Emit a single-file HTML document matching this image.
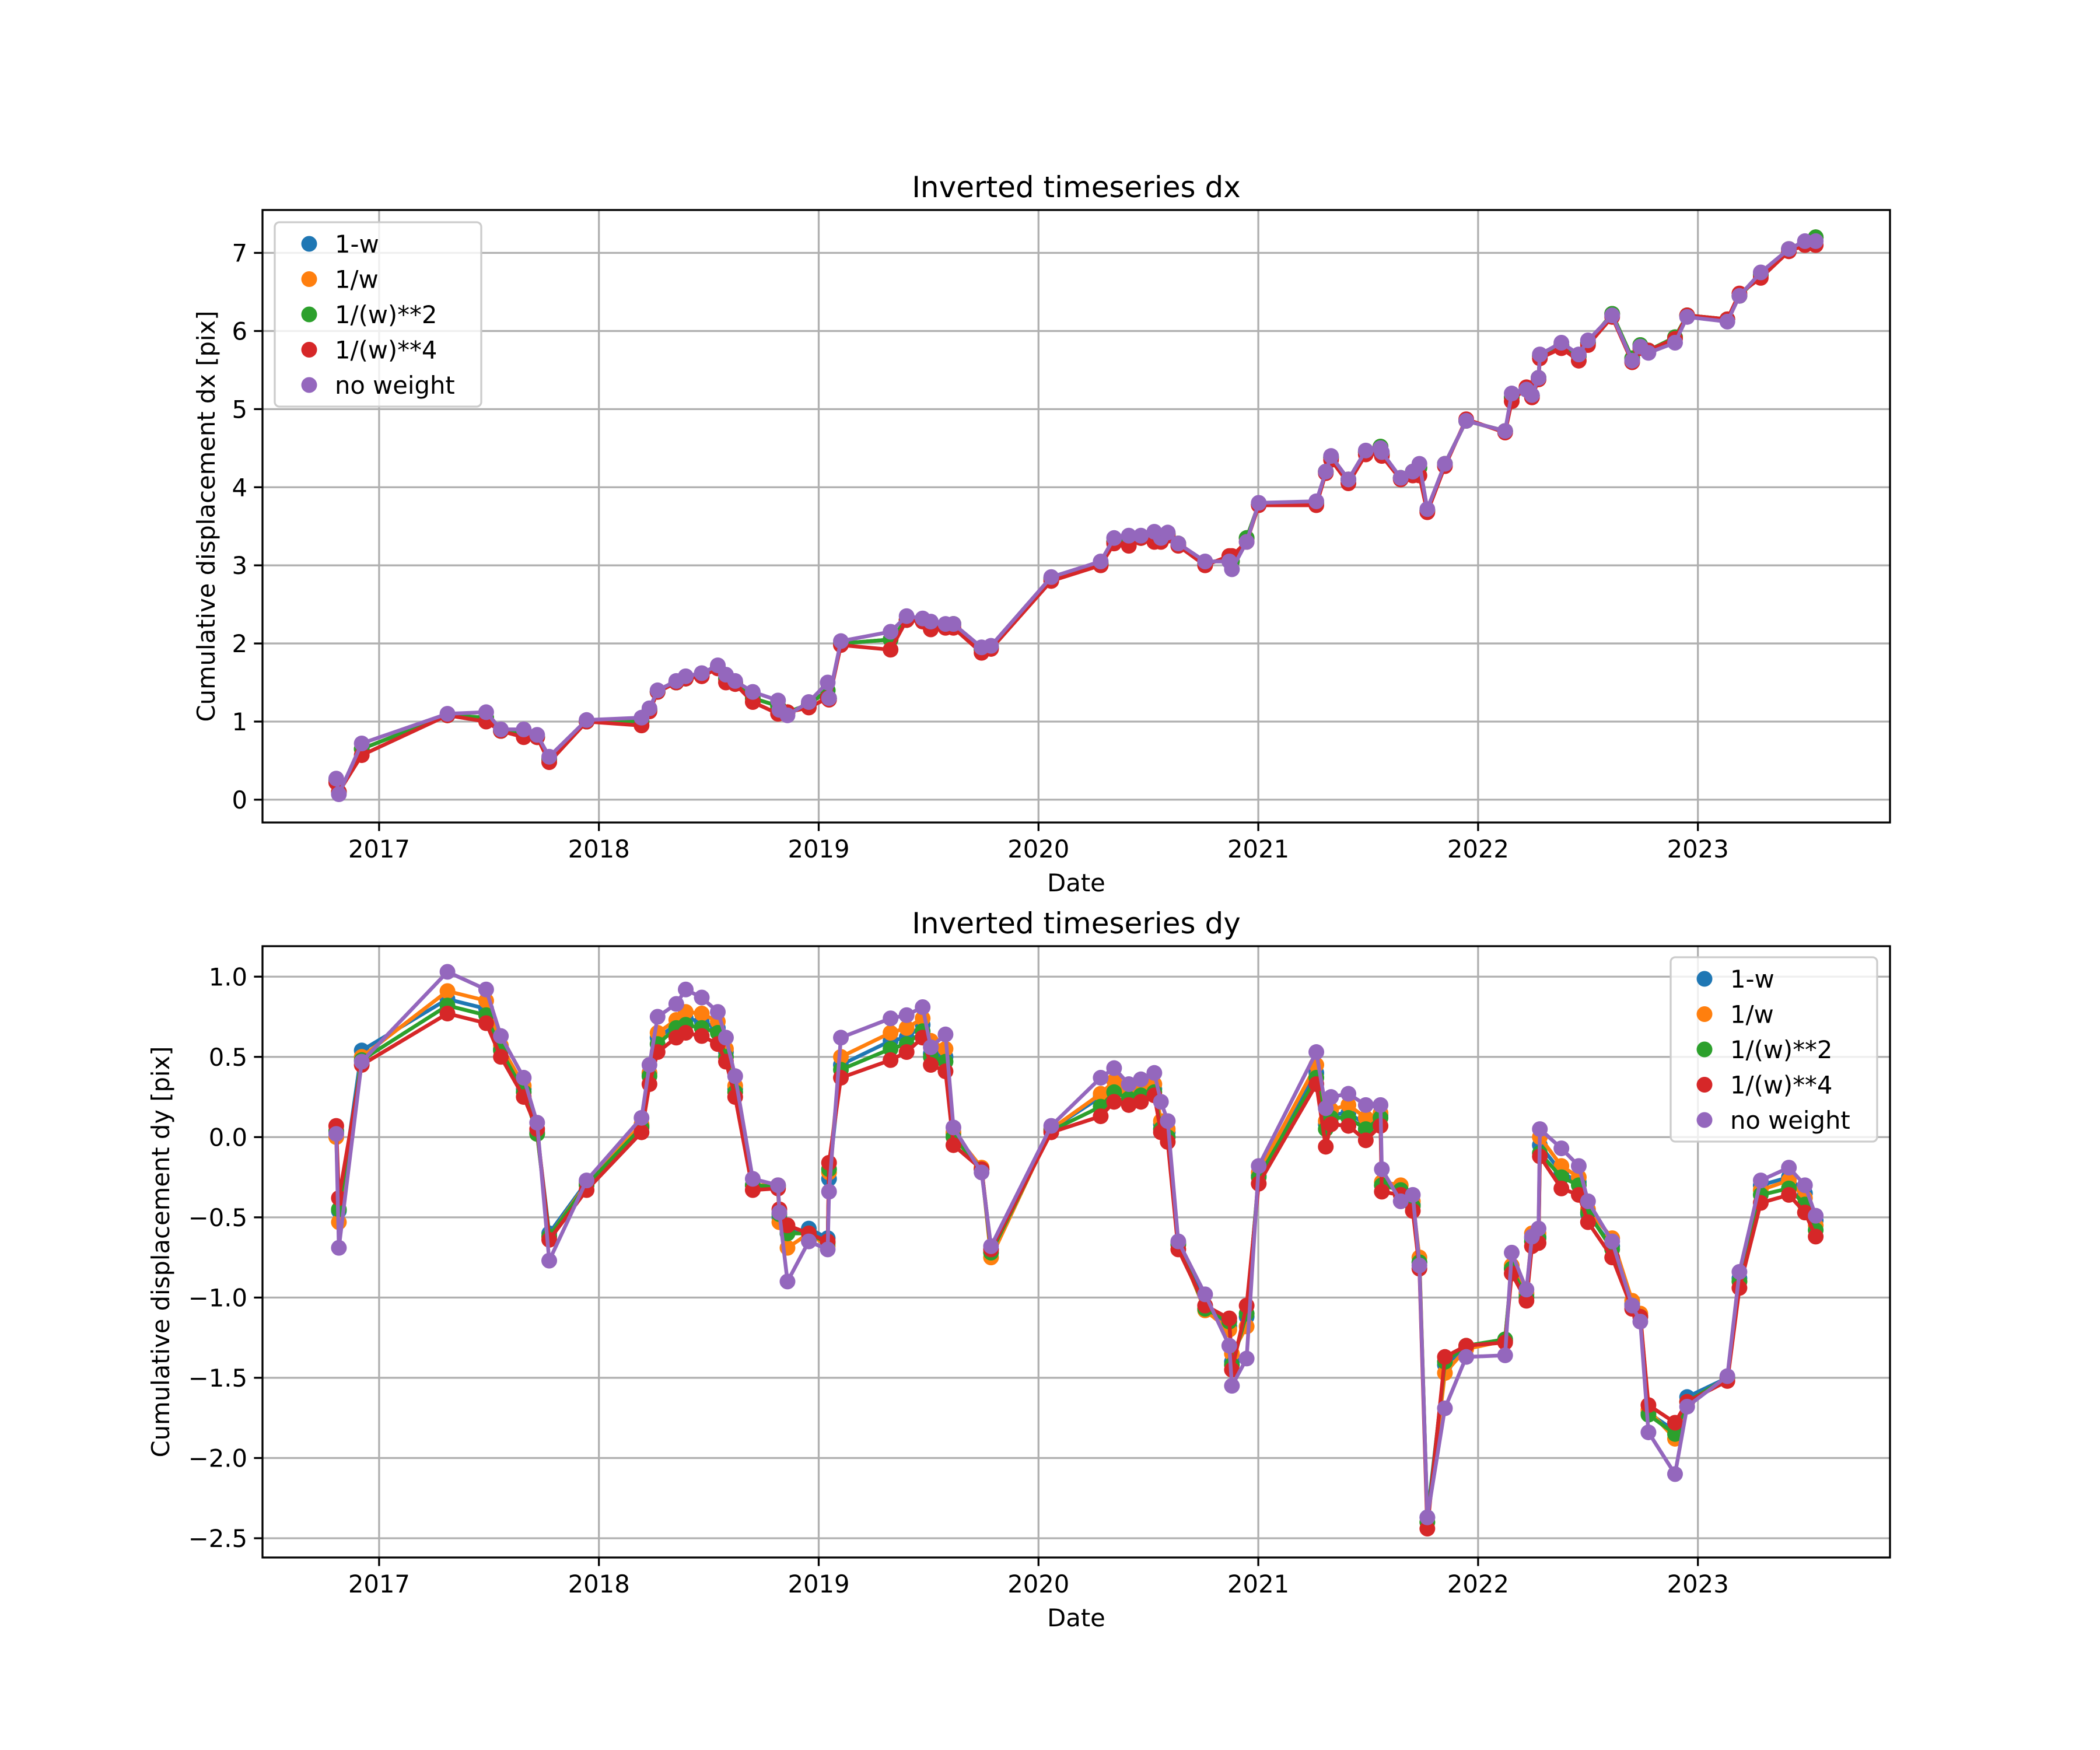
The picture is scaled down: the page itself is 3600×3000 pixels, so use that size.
<!DOCTYPE html>
<html><head><meta charset="utf-8"><style>
html,body{margin:0;padding:0;background:#fff;}
svg{display:block;font-family:"DejaVu Sans","Liberation Sans",sans-serif;}
</style></head><body>
<svg id="fig" width="3600" height="3000" viewBox="0 0 3600 3000" xmlns="http://www.w3.org/2000/svg"></svg>
<script>
const dates=[2016.805,2016.817,2016.921,2017.311,2017.487,2017.554,2017.658,2017.719,2017.774,2017.944,2018.194,2018.230,2018.267,2018.352,2018.395,2018.468,2018.541,2018.578,2018.620,2018.700,2018.815,2018.821,2018.858,2018.955,2019.041,2019.047,2019.101,2019.327,2019.400,2019.473,2019.510,2019.577,2019.613,2019.741,2019.784,2020.058,2020.283,2020.344,2020.411,2020.466,2020.527,2020.557,2020.588,2020.636,2020.758,2020.868,2020.880,2020.947,2021.002,2021.264,2021.307,2021.331,2021.410,2021.489,2021.556,2021.562,2021.648,2021.703,2021.733,2021.769,2021.849,2021.946,2022.123,2022.153,2022.220,2022.245,2022.275,2022.281,2022.379,2022.458,2022.500,2022.610,2022.701,2022.738,2022.775,2022.896,2022.951,2023.134,2023.189,2023.286,2023.414,2023.487,2023.536];
const dxNoWeight=[.27,.07,.72,1.1,1.12,.9,.9,.83,.55,1.02,1.05,1.17,1.4,1.52,1.58,1.62,1.72,1.6,1.52,1.38,1.27,1.15,1.08,1.25,1.5,1.3,2.03,2.15,2.35,2.32,2.28,2.25,2.25,1.95,1.97,2.85,3.05,3.35,3.38,3.38,3.43,3.35,3.42,3.28,3.05,3.05,2.95,3.3,3.8,3.82,4.2,4.4,4.1,4.47,4.5,4.45,4.12,4.2,4.3,3.72,4.3,4.85,4.72,5.2,5.25,5.18,5.4,5.7,5.85,5.7,5.88,6.2,5.62,5.8,5.72,5.85,6.18,6.12,6.45,6.75,7.05,7.15,7.15];
const dxW4=[.22,.1,.57,1.08,1.0,.88,.8,.8,.48,1.0,.95,1.13,1.38,1.5,1.55,1.58,1.68,1.5,1.48,1.25,1.1,1.12,1.12,1.18,1.3,1.28,1.98,1.92,2.3,2.28,2.18,2.2,2.2,1.88,1.93,2.8,3.0,3.28,3.25,3.35,3.3,3.3,3.38,3.25,3.0,3.12,3.12,3.3,3.77,3.77,4.18,4.35,4.05,4.42,4.45,4.4,4.1,4.15,4.15,3.68,4.27,4.87,4.7,5.1,5.28,5.15,5.38,5.65,5.78,5.62,5.82,6.18,5.6,5.78,5.75,5.9,6.2,6.15,6.48,6.68,7.02,7.1,7.1];
const dxMid=[.25,.1,.65,1.08,1.05,.88,.85,.8,.52,1.0,1.0,1.15,1.38,1.5,1.55,1.6,1.7,1.55,1.5,1.3,1.2,1.13,1.12,1.22,1.4,1.3,2.0,2.05,2.3,2.3,2.25,2.22,2.25,1.92,1.95,2.83,3.02,3.3,3.3,3.35,3.38,3.33,3.4,3.28,3.03,3.08,3.05,3.35,3.78,3.8,4.2,4.38,4.1,4.45,4.52,4.42,4.12,4.2,4.25,3.7,4.3,4.85,4.72,5.15,5.25,5.17,5.4,5.68,5.82,5.68,5.85,6.22,5.65,5.82,5.75,5.92,6.2,6.15,6.45,6.72,7.05,7.12,7.2];
const dxW1=dxMid.slice(), dxInv=dxMid.slice(), dxW2=dxMid.slice();
const dyNoWeight=[.02,-.69,.47,1.03,.92,.63,.37,.09,-.77,-.27,.12,.45,.75,.83,.92,.87,.78,.62,.38,-.26,-.3,-.47,-.9,-.65,-.7,-.34,.62,.74,.76,.81,.56,.64,.06,-.22,-.68,.07,.37,.43,.33,.36,.4,.22,.1,-.65,-.98,-1.3,-1.55,-1.38,-.18,.53,.18,.25,.27,.2,.2,-.2,-.4,-.36,-.8,-2.37,-1.69,-1.37,-1.36,-.72,-.95,-.62,-.57,.05,-.07,-.18,-.4,-.65,-1.05,-1.15,-1.84,-2.1,-1.68,-1.49,-.84,-.27,-.19,-.3,-.49];
const dyW4=[.07,-.38,.45,.77,.71,.5,.25,.05,-.64,-.33,.03,.33,.53,.62,.65,.63,.58,.47,.25,-.33,-.32,-.45,-.55,-.6,-.65,-.16,.37,.48,.53,.62,.45,.41,-.05,-.2,-.7,.03,.13,.22,.2,.22,.26,.03,-.03,-.7,-1.05,-1.13,-1.45,-1.05,-.29,.33,-.06,.08,.07,-.02,.07,-.34,-.36,-.46,-.82,-2.44,-1.37,-1.3,-1.28,-.85,-1.02,-.68,-.66,-.12,-.32,-.36,-.53,-.75,-1.07,-1.12,-1.67,-1.78,-1.65,-1.52,-.94,-.41,-.36,-.47,-.62];
const dyInv=[.0,-.53,.5,.91,.85,.57,.32,.02,-.62,-.29,.08,.4,.65,.73,.78,.77,.72,.55,.32,-.3,-.3,-.53,-.69,-.6,-.68,-.22,.5,.65,.68,.74,.6,.55,.03,-.19,-.75,.05,.27,.35,.28,.3,.33,.1,.05,-.67,-1.08,-1.2,-1.35,-1.18,-.22,.45,.1,.17,.2,.12,.15,-.28,-.3,-.4,-.75,-2.4,-1.47,-1.32,-1.27,-.8,-.97,-.6,-.6,.0,-.18,-.25,-.45,-.63,-1.02,-1.1,-1.7,-1.88,-1.65,-1.5,-.9,-.33,-.27,-.38,-.55];
const dyW1=[.03,-.46,.54,.86,.8,.55,.3,.03,-.6,-.28,.07,.4,.62,.7,.74,.72,.68,.53,.3,-.3,-.3,-.5,-.6,-.57,-.63,-.26,.45,.6,.62,.7,.52,.5,.02,-.2,-.7,.05,.25,.3,.26,.28,.3,.08,.03,-.66,-1.05,-1.18,-1.4,-1.12,-.24,.4,.08,.14,.15,.08,.14,-.3,-.33,-.42,-.78,-2.37,-1.42,-1.31,-1.27,-.82,-.98,-.63,-.62,-.05,-.22,-.28,-.48,-.68,-1.04,-1.12,-1.72,-1.83,-1.62,-1.5,-.88,-.3,-.25,-.35,-.52];
const dyW2=[.04,-.45,.48,.82,.76,.54,.28,.02,-.62,-.3,.06,.38,.58,.68,.7,.68,.65,.5,.28,-.3,-.31,-.48,-.6,-.6,-.66,-.2,.42,.55,.58,.66,.5,.47,.0,-.2,-.72,.04,.19,.28,.24,.26,.28,.05,.0,-.67,-1.07,-1.15,-1.42,-1.1,-.25,.37,.05,.12,.12,.05,.12,-.3,-.33,-.43,-.78,-2.4,-1.4,-1.3,-1.26,-.82,-1.0,-.65,-.63,-.1,-.25,-.3,-.47,-.7,-1.05,-1.12,-1.73,-1.85,-1.65,-1.5,-.9,-.36,-.32,-.42,-.58];
const seriesNames=["1-w","1/w","1/(w)**2","1/(w)**4","no weight"];
const seriesColors=["#1f77b4","#ff7f0e","#2ca02c","#d62728","#9467bd"];
const xTickYears=[2017,2018,2019,2020,2021,2022,2023];
const dxTicks=[0,1,2,3,4,5,6,7];
const dyTicks=[1.0,0.5,0.0,-0.5,-1.0,-1.5,-2.0,-2.5];
const dyTickLabels=["1.0","0.5","0.0","\u22120.5","\u22121.0","\u22121.5","\u22122.0","\u22122.5"];

const NS="http://www.w3.org/2000/svg";
const svg=document.getElementById('fig');
function mk(tag,attrs,parent,text){const e=document.createElementNS(NS,tag);for(const k in attrs)e.setAttribute(k,attrs[k]);if(text!==undefined)e.textContent=text;(parent||svg).appendChild(e);return e;}
const L=450,R=3240;
function xs(t){return L+(t-2016.4695)/(2023.874-2016.4695)*(R-L);}

function panel(cfg){
  const g=mk('g',{});
  
  
  const ys=v=>cfg.bot+(v-cfg.ymin)/(cfg.ymax-cfg.ymin)*(cfg.top-cfg.bot);
  xTickYears.forEach(yr=>{const x=xs(yr);
    const l=mk('line',{x1:x,x2:x,y1:cfg.top,y2:cfg.bot,stroke:'#b0b0b0','stroke-width':3.3},g);
    });
  cfg.ticks.forEach(v=>{const y=ys(v);
    const l=mk('line',{x1:L,x2:R,y1:y,y2:y,stroke:'#b0b0b0','stroke-width':3.3},g);
    });
  [0,1,2,3,4].forEach(i=>{
    const vals=cfg.series[i];
    const sg=mk('g',{},g);
    
    
    const pts=dates.map((d,j)=>xs(d).toFixed(1)+','+ys(vals[j]).toFixed(1)).join(' ');
    const pl=mk('polyline',{points:pts,fill:'none',stroke:seriesColors[i],'stroke-width':6.5,'stroke-linejoin':'round'},sg);
    
    dates.forEach((d,j)=>{
      const c=mk('circle',{cx:xs(d),cy:ys(vals[j]),r:13.5,fill:seriesColors[i]},sg);
      
    });
  });
  const fr=mk('rect',{x:L,y:cfg.top,width:R-L,height:cfg.bot-cfg.top,fill:'none',stroke:'#000','stroke-width':3.3},g);
  
  xTickYears.forEach(yr=>{const x=xs(yr);
    mk('line',{x1:x,x2:x,y1:cfg.bot,y2:cfg.bot+14.6,stroke:'#000','stroke-width':3.3},g);
    const t=mk('text',{x:x,y:cfg.bot+60,'font-size':41.7,'text-anchor':'middle'},g,String(yr));
    });
  cfg.ticks.forEach((v,k)=>{const y=ys(v);
    mk('line',{x1:L-14.6,x2:L,y1:y,y2:y,stroke:'#000','stroke-width':3.3},g);
    const t=mk('text',{x:L-26,y:y+15,'font-size':41.7,'text-anchor':'end'},g,cfg.tickLabels[k]);
    });
  const ti=mk('text',{x:(L+R)/2,y:cfg.top-22,'font-size':50,'text-anchor':'middle'},g,cfg.title);
  
  const xl=mk('text',{x:(L+R)/2,y:cfg.bot+118,'font-size':41.7,'text-anchor':'middle'},g,'Date');
  
  const yc=(cfg.top+cfg.bot)/2;
  const yl=mk('text',{x:cfg.ylabX,y:yc,'font-size':41.7,'text-anchor':'middle',transform:'rotate(-90 '+cfg.ylabX+' '+yc+')'},g,cfg.ylabel);
  
  const lg=mk('g',{},g);
  
  mk('rect',{x:cfg.leg.x,y:cfg.leg.y,width:cfg.leg.w,height:cfg.leg.h,rx:8,fill:'#fff','fill-opacity':0.8,stroke:'#cccccc','stroke-width':3.3},lg);
  seriesNames.forEach((n,i)=>{
    const y=cfg.leg.y0+i*60.5;
    const eg=mk('g',{},lg);
    
    mk('circle',{cx:cfg.leg.mx,cy:y,r:13.5,fill:seriesColors[i]},eg);
    mk('text',{x:cfg.leg.mx+44,y:y+15,'font-size':41.7},eg,n);
  });
}
panel({name:'dx-chart',top:360,bot:1410,ymin:-0.292,ymax:7.549,ticks:dxTicks,tickLabels:dxTicks.map(String),
  series:[dxW1,dxInv,dxW2,dxW4,dxNoWeight],title:'Inverted timeseries dx',ylabel:'Cumulative displacement dx [pix]',ylabX:368,
  leg:{x:471,y:381,w:354,h:316,y0:418,mx:530}});
panel({name:'dy-chart',top:1622,bot:2670,ymin:-2.62,ymax:1.19,ticks:dyTicks,tickLabels:dyTickLabels,
  series:[dyW1,dyInv,dyW2,dyW4,dyNoWeight],title:'Inverted timeseries dy',ylabel:'Cumulative displacement dy [pix]',ylabX:290,
  leg:{x:2864,y:1641,w:354,h:316,y0:1678,mx:2922}});
</script>
</body></html>
